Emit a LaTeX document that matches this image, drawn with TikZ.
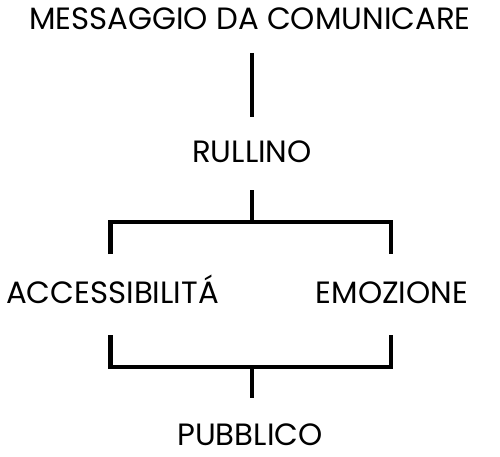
\documentclass[tikz,border=0pt]{standalone}
\usepackage{fontspec}
\setmainfont{Poppins}
\begin{document}
\begin{tikzpicture}[x=1pt,y=-1pt,
  lbl/.style={anchor=base,inner sep=0pt,font=\fontsize{30.8}{34}\selectfont},
  conn/.style={line width=4.2pt,line cap=butt,line join=miter}]
\useasboundingbox (0,0) rectangle (500,457);
\node[lbl] (msg) at (250,29.5) {MESSAGGIO DA COMUNICARE};
\node[lbl] (rul) at (252,162.5) {RULLINO};
\node[lbl] (acc) at (112.5,303.5) {ACCESSIBILITÁ};
\node[lbl] (emo) at (392,303.5) {EMOZIONE};
\node[lbl] (pub) at (250,445.5) {PUBBLICO};
\coordinate (a1) at (252,53);
\coordinate (a2) at (252,117);
\coordinate (b1) at (252,190);
\coordinate (bj) at (252,222);
\coordinate (bl) at (110.5,222);
\coordinate (br) at (391,222);
\coordinate (bld) at (110.5,254);
\coordinate (brd) at (391,254);
\coordinate (cl) at (110.5,335);
\coordinate (cr) at (391,335);
\coordinate (cld) at (110.5,367);
\coordinate (crd) at (391,367);
\coordinate (cj) at (252,367);
\coordinate (c2) at (252,398);
\draw[conn] (a1) -- (a2);
\draw[conn] (b1) -- (bj);
\draw[conn] (bld) -- (bl) -- (br) -- (brd);
\draw[conn] (cl) -- (cld) -- (crd) -- (cr);
\draw[conn] (cj) -- (c2);
\end{tikzpicture}
\end{document}
